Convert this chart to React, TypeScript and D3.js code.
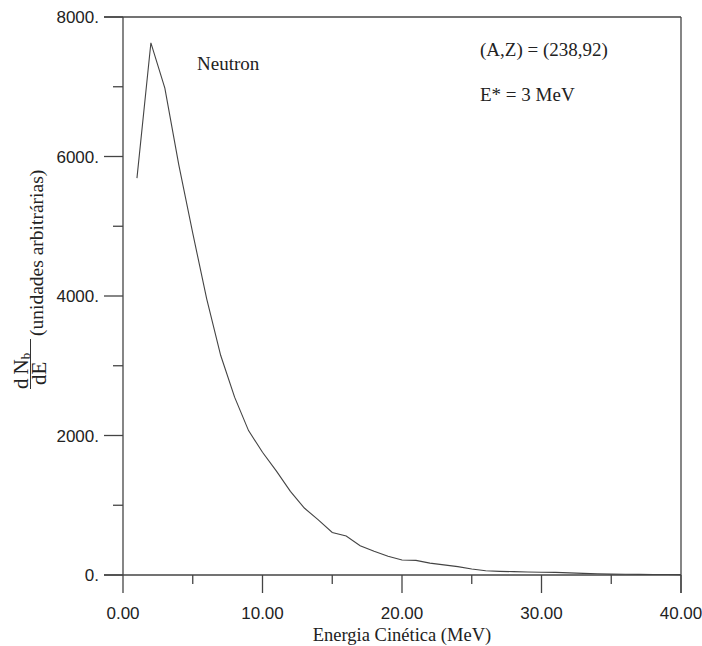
import React from 'react';
import * as d3 from 'd3';

// energia cinética (MeV) e espectro dN/dE
const energies = [1, 2, 3, 4, 5, 6, 7, 8, 9, 10, 11, 12, 13, 14, 15, 16, 17, 18, 19, 20,
  21, 22, 23, 24, 25, 26, 27, 28, 29, 30, 31, 32, 33, 34, 35, 36, 37, 38, 39, 40];
const spectrum = [5690, 7630, 6980, 5880, 4900, 3960, 3150, 2550, 2070, 1760,
  1490, 1200, 960, 790, 610, 560, 420, 340, 270, 215,
  210, 170, 145, 120, 85, 60, 52, 48, 44, 40,
  38, 30, 24, 17, 12, 10, 9, 8, 7, 6];

const xMajor = [0, 10, 20, 30, 40];
const xMinor = [5, 15, 25, 35];
const yMajor = [0, 2000, 4000, 6000, 8000];
const yMinor = [1000, 3000, 5000, 7000];

const W = 702;
const H = 646;
const left = 123, right = 681, top = 17, bottom = 575;
const AX = '#444';
const SERIF = "'Liberation Serif', 'Times New Roman', 'DejaVu Serif', serif";
const SANS = "'Liberation Sans', Arial, sans-serif";

export default function App() {
  const x = d3.scaleLinear().domain([0, 40]).range([left, right]);
  const y = d3.scaleLinear().domain([0, 8000]).range([bottom, top]);

  const line = d3.line<number>()
    .x((_, i) => x(energies[i]))
    .y(d => y(d));

  const serif = { fontFamily: SERIF };

  // rotulo do eixo y (girado -90): local x = -tela y, local y = tela x
  return (
    <svg width={W} height={H} style={{ position: 'absolute', left: 0, top: 0, background: '#fff' }}>
      {/* moldura */}
      <g stroke={AX} strokeWidth={1.3} fill="none">
        <line x1={left} y1={top} x2={left} y2={bottom} />
        <line x1={left - 19} y1={bottom} x2={right} y2={bottom} />
        <line x1={left - 19} y1={top} x2={right} y2={top} />
        <line x1={right} y1={top} x2={right} y2={bottom + 18} />
        {xMajor.map(v => <line key={'xM' + v} x1={x(v)} x2={x(v)} y1={bottom} y2={bottom + 18} />)}
        {xMinor.map(v => <line key={'xm' + v} x1={x(v)} x2={x(v)} y1={bottom} y2={bottom + 9} />)}
        {yMajor.map(v => <line key={'yM' + v} x1={left - 19} x2={left} y1={y(v)} y2={y(v)} />)}
        {yMinor.map(v => <line key={'ym' + v} x1={left - 10} x2={left} y1={y(v)} y2={y(v)} />)}
      </g>

      {/* rotulos dos ticks */}
      <g style={{ fontFamily: SANS }} fontSize={17} fill="#222">
        {xMajor.map(v => (
          <text key={'xl' + v} x={x(v)} y={bottom + 44} textAnchor="middle">{v.toFixed(2)}</text>
        ))}
        {yMajor.map(v => (
          <text key={'yl' + v} x={left - 24} y={y(v) + 6} textAnchor="end">{v + '.'}</text>
        ))}
      </g>

      {/* curva */}
      <path d={line(spectrum) || ''} fill="none" stroke="#444" strokeWidth={1.1} />

      {/* textos */}
      <g style={serif} fill="#222">
        <text x={197} y={70} fontSize={19}>Neutron</text>
        <text x={480} y={56} fontSize={19}>(A,Z) = (238,92)</text>
        <text x={480} y={101} fontSize={19}>E* = 3 MeV</text>
        <text x={(left + right) / 2} y={641} fontSize={18.5} textAnchor="middle">Energia Cinética (MeV)</text>
        <g transform="rotate(-90)">
          <text x={-389} y={28} fontSize={21}>d<tspan dx={4}>N</tspan><tspan fontSize={13} dy={2}>b</tspan></text>
          <text x={-385} y={46} fontSize={21}>dE</text>
          <text x={-336} y={43} fontSize={19.5}>(unidades arbitrárias)</text>
        </g>
        <line x1={30.5} x2={30.5} y1={339} y2={389} stroke="#333" strokeWidth={1} />
      </g>
    </svg>
  );
}
